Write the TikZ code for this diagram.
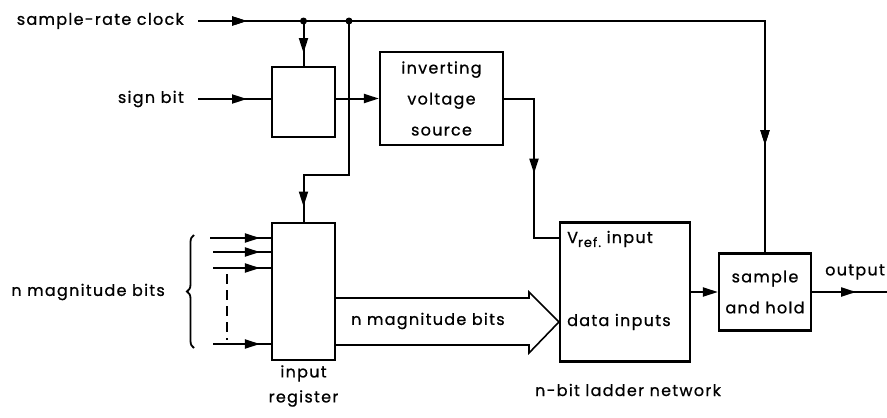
\documentclass[tikz,border=0pt]{standalone}
\usepackage{fontspec}
\setmainfont{Poppins}[LetterSpace=8,FakeBold=0.8]
\usetikzlibrary{arrows.meta,decorations.markings,decorations.pathreplacing}
\tikzset{
  blk/.style={draw,line width=2.2pt,inner sep=0pt},
  wire/.style={line width=2pt},
  tip/.style={-{Triangle[length=15pt,width=9pt]}},
  arrowat/.style={postaction={decorate},decoration={markings,mark=at position #1 with {\arrow{Triangle[length=15pt,width=9pt]}}}},
  lbl/.style={inner sep=0pt,font=\fontsize{16}{31}\selectfont},
  dot/.style={circle,fill,inner sep=0pt,minimum size=7pt}
}
\begin{document}
\begin{tikzpicture}[x=1pt,y=-1pt]
\useasboundingbox (0,0) rectangle (887,418);
% blocks
\node[blk,minimum width=63pt,minimum height=70pt] (sign) at (303.5,102) {};
\node[blk,minimum width=123pt,minimum height=93pt,lbl,align=center] (inv) at (441.5,98.5) {inverting\\voltage\\source};
\node[blk,minimum width=63pt,minimum height=137pt] (reg) at (303.5,291.5) {};
\node[blk,minimum width=130pt,minimum height=139pt] (lad) at (625,292) {};
\node[blk,minimum width=92pt,minimum height=77pt,lbl,align=center] (sh) at (765,292) {sample\\and hold};
% labels
\node[lbl,anchor=east] (clklbl) at (184,21) {sample-rate clock};
\node[lbl,anchor=east] (sgnlbl) at (184,99) {sign bit};
\node[lbl,anchor=east] (maglbl) at (165,292) {n magnitude bits};
\node[lbl,align=center,font=\fontsize{16}{25}\selectfont] (reglbl) at (303.5,386) {input\\register};
\node[lbl] (ladlbl) at (628,390) {n-bit ladder network};
\node[lbl,anchor=west] (vref) at (567,239) {V\raisebox{-0.45ex}{\fontsize{13}{13}\selectfont ref.} input};
\node[lbl,anchor=west] (data) at (567,322) {data inputs};
\node[lbl,anchor=east] (outlbl) at (885,272) {output};
% coordinates
\coordinate (clkin) at (198,21);
\coordinate (d1) at (303.5,21);
\coordinate (d2) at (349,21);
\coordinate (clkc) at (sh.north |- clkin);
\coordinate (regc) at (349,175);
\coordinate (sgnin) at (198,99);
\coordinate (vrefc) at (534,238);
\coordinate (outend) at (887,292);
% clock
\draw[wire,arrowat=49pt,arrowat=691pt] (clkin) -- (clkc) -- (sh.north);
\node[dot] (dot1) at (d1) {};
\node[dot] (dot2) at (d2) {};
\draw[wire,arrowat=32pt] (dot1.center) -- (sign.north);
\draw[wire,arrowat=231pt] (dot2.center) -- (regc) -| (reg.north);
% sign bit
\draw[wire,arrowat=49pt] (sgnin) -- (sgnin -| sign.west);
\draw[wire,tip] (sign.east |- inv.west) -- (inv.west);
% inverting source to vref
\draw[wire,arrowat=105pt] (inv.east) -| (vrefc) -- (vrefc -| lad.west);
% input bits
\foreach \yy/\xs/\nm in {238/210/b1,252/213/b2,268/213/b3,344/213/b4}{
  \coordinate (\nm) at (\xs,\yy);
  \draw[wire,arrowat=-11pt] (\nm) -- (\nm -| reg.west);
}
\draw[line width=1.6pt,dash pattern=on 10pt off 6pt] (227,274) -- (227,340);
\draw[line width=1.8pt,decorate,decoration={brace,amplitude=7pt}] (194,348) -- (194,235);
% wide arrow
\draw[line width=1.6pt,line join=miter] (reg.east |- 0,298) -- (529,298) -- (529,292) -- (lad.west |- 0,322) -- (529,353) -- (529,345) -- (reg.east |- 0,345);
\node[lbl,anchor=west] (buslbl) at (351,321) {n magnitude bits};
% ladder to S&H and output
\draw[wire,tip] (lad.east) -- (sh.west);
\draw[wire,arrowat=44pt] (sh.east) -- (outend);
\end{tikzpicture}
\end{document}
